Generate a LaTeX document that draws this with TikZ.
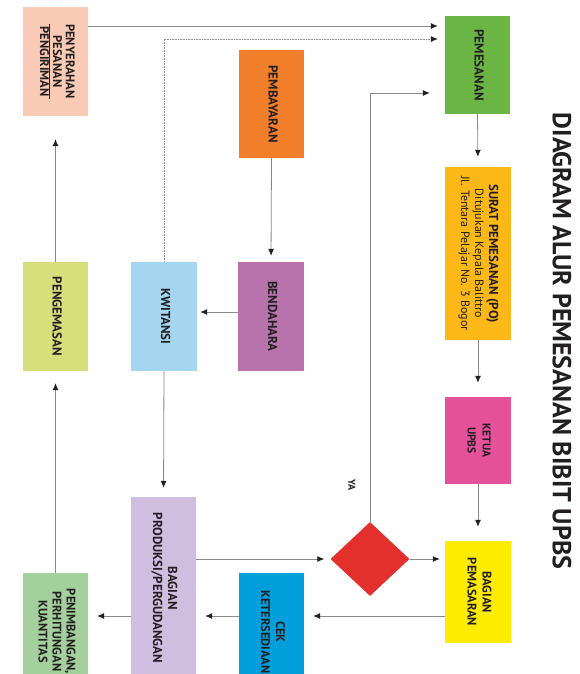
\documentclass[tikz,border=0pt]{standalone}
\usepackage{fontspec}
\setmainfont{PT Sans}
\usepackage{graphicx}
\usetikzlibrary{shapes.geometric, arrows.meta}
\usetikzlibrary{positioning}
\usetikzlibrary{calc}

\definecolor{ink}{HTML}{231F20}
\definecolor{linegray}{HTML}{8A8A8A}
\definecolor{cPenyerahan}{HTML}{F9CAB5}
\definecolor{cPemesanan}{HTML}{6BB545}
\definecolor{cPembayaran}{HTML}{F07E2B}
\definecolor{cBendahara}{HTML}{B873AD}
\definecolor{cKwitansi}{HTML}{A5D6EF}
\definecolor{cPengemasan}{HTML}{D5E07C}
\definecolor{cSurat}{HTML}{FBB817}
\definecolor{cKetua}{HTML}{E6519B}
\definecolor{cPemasaran}{HTML}{FEEC00}
\definecolor{cKeputusan}{HTML}{E3302D}
\definecolor{cCek}{HTML}{009FDB}
\definecolor{cProduksi}{HTML}{CFBEDF}
\definecolor{cPenimbangan}{HTML}{A3D09C}

\newcommand{\rottext}[1]{\rotatebox{-90}{\begin{tabular}{@{}c@{}}#1\end{tabular}}}

\begin{document}
\begin{tikzpicture}[x=1pt, y=-1pt,
                    every node/.style={align=center, inner sep=0pt, text=ink},
                    box/.style={rectangle, minimum width=65pt, font=\bfseries\fontsize{13}{14}\selectfont},
                    line/.style={draw=linegray, line width=0.8pt, -{Latex[length=7pt,width=6pt,color=ink]}},
                    dots/.style={line, dash pattern=on 0.8pt off 0.8pt}
                ]
                \clip (0,0) rectangle (579,674);
                \fill[white] (0,0) rectangle (579,674);

                \node[box, fill=cPenyerahan, minimum height=109pt, font=\bfseries\fontsize{12.5}{12.5}\selectfont] (penyerahan) at (55.5,61.5) {\rottext{PENYERAHAN\\PESANAN\\\hline PENGIRIMAN}};
                \node[box, fill=cPemesanan, minimum height=98pt] (pemesanan) at (477.5,65) {\rottext{PEMESANAN}};
                \node[box, fill=cPembayaran, minimum height=108pt] (pembayaran) at (271.5,104) {\rottext{PEMBAYARAN}};
                \node[box, fill=cPengemasan, minimum height=109pt] (pengemasan) at (55.5,316.5) {\rottext{PENGEMASAN}};
                \node[box, fill=cKwitansi, minimum width=66pt, minimum height=109pt] (kwitansi) at (164,316.5) {\rottext{KWITANSI}};
                \node[box, fill=cBendahara, minimum width=66pt, minimum height=109pt] (bendahara) at (271,316.5) {\rottext{BENDAHARA}};
                \node[box, fill=cSurat, minimum width=66pt, minimum height=173pt] (surat) at (478,253.5) {\rottext{SURAT PEMESANAN (PO)\\\mdseries\fontsize{12}{14}\selectfont Ditujukan Kepala Balittro\\\mdseries\fontsize{12}{14}\selectfont Jl. Tentara Pelajar No. 3 Bogor}};
                \node[box, fill=cKetua, minimum width=66pt, minimum height=87pt, font=\bfseries\fontsize{11.5}{15}\selectfont] (ketua) at (478,440.5) {\rottext{KETUA\\UPBS}};
                \node[box, fill=cPemasaran, minimum width=66pt, minimum height=102pt, font=\bfseries\fontsize{12.5}{15}\selectfont] (pemasaran) at (478,592) {\rottext{BAGIAN\\PEMASARAN}};
                \node[diamond, fill=cKeputusan, minimum width=79pt, minimum height=74pt] (keputusan) at (370,559) {};
                \node[box, fill=cCek, minimum height=118pt, font=\bfseries\fontsize{12.5}{15}\selectfont] (cek) at (271.5,632) {\rottext{CEK\\KETERSEDIAAN}};
                \node[box, fill=cProduksi, minimum height=182pt, font=\bfseries\fontsize{13}{15}\selectfont] (produksi) at (163.5,588) {\rottext{BAGIAN\\PRODUKSI/PERGUDANGAN}};
                \node[box, fill=cPenimbangan, minimum height=117pt, font=\bfseries\fontsize{12.5}{14}\selectfont] (penimbangan) at (55.5,631.5) {\rottext{PENIMBANGAN,\\PERHITUNGAN\\KUANTITAS}};

                \node[font=\bfseries\fontsize{10}{12}\selectfont] (ya) at (352,485) {\rotatebox{-90}{YA}};
                \node[font=\bfseries\fontsize{26}{30}\selectfont] (judul) at (562,341) {\rotatebox{-90}{DIAGRAM ALUR PEMESANAN BIBIT UPBS}};

                \coordinate (lineA) at (0,26);
                \coordinate (lineB) at (0,39);
                \coordinate (lineC) at (0,93);
                \coordinate (lineD) at (0,616);
                \coordinate (lineE) at (0,312);

                \draw[line, shorten >=7pt] (penyerahan.east |- lineA) -- (pemesanan.west |- lineA);
                \draw[dots, shorten >=7pt] (kwitansi.north) |- (pemesanan.west |- lineB);
                \draw[line, shorten >=15pt] (keputusan.north) |- (pemesanan.west |- lineC);
                \draw[line, shorten >=10pt] (pemesanan.south) -- (surat.north);
                \draw[line, shorten >=14pt] (surat.south) -- (ketua.north);
                \draw[line, shorten >=14pt] (ketua.south) -- (pemasaran.north);
                \draw[line, shorten >=5pt] (keputusan.east) -- (pemasaran.west |- keputusan.east);
                \draw[line, shorten >=9pt] (pemasaran.west |- lineD) -- (cek.east |- lineD);
                \draw[line, shorten >=9pt] (cek.west |- lineD) -- (produksi.east |- lineD);
                \draw[line, shorten >=6pt] (produksi.east |- keputusan.west) -- (keputusan.west);
                \draw[line, shorten >=9pt] (produksi.west |- lineD) -- (penimbangan.east |- lineD);
                \draw[line, shorten >=12pt] (penimbangan.north) -- (pengemasan.south);
                \draw[line, shorten >=23pt] (pengemasan.north) -- (penyerahan.south);
                \draw[line, shorten >=6pt] (pembayaran.south) -- (bendahara.north);
                \draw[line, shorten >=3pt] (bendahara.west |- lineE) -- (kwitansi.east |- lineE);
                \draw[line, shorten >=9pt] (kwitansi.south) -- (produksi.north);
            \end{tikzpicture}
\end{document}
